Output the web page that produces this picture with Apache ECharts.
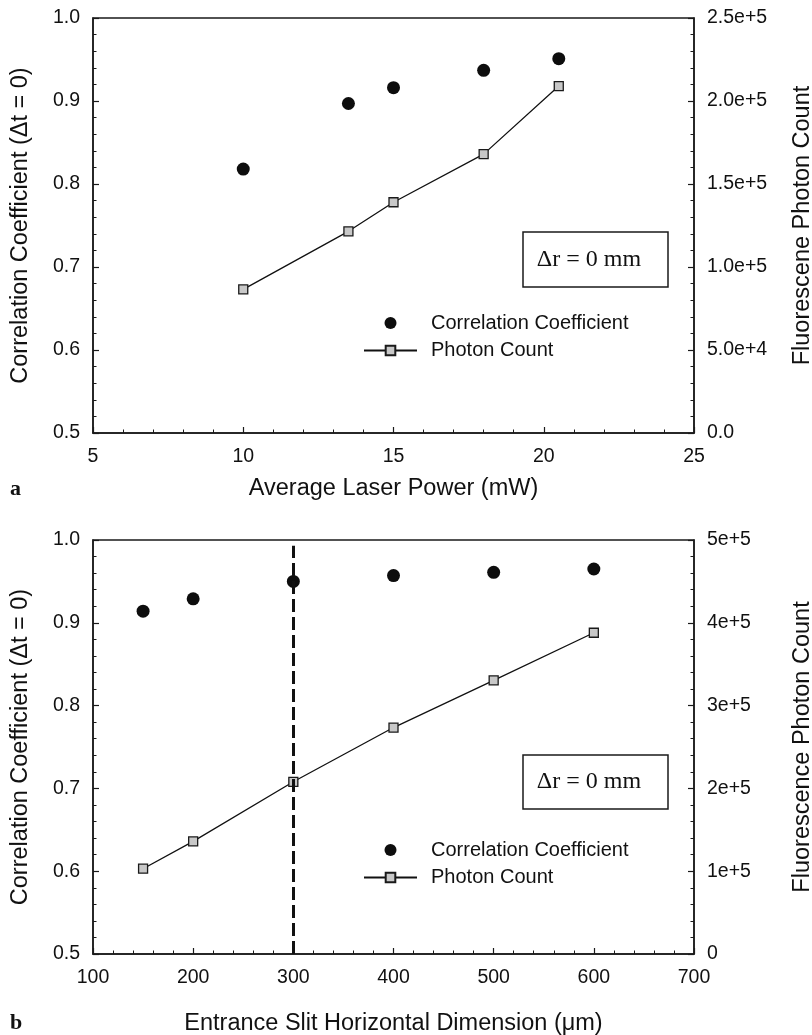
<!DOCTYPE html>
<html><head><meta charset="utf-8">
<script src="https://cdn.jsdelivr.net/npm/echarts@6/dist/echarts.min.js"></script>
<style>html,body{margin:0;padding:0;background:#fff}#c{width:812px;height:1035px}</style>
</head><body><div id="c"></div>
<script>
// ---- data ----
const powerA   = [10, 13.5, 15, 18, 20.5];
const corrA    = [0.818, 0.897, 0.916, 0.937, 0.951];
const photonA  = [86500, 121500, 139000, 168000, 209000];

const slitB    = [150, 200, 300, 400, 500, 600];
const corrB    = [0.914, 0.929, 0.950, 0.957, 0.961, 0.965];
const photonB  = [103000, 136000, 208000, 273500, 330500, 388000];

const leftTicks   = ['0.5', '0.6', '0.7', '0.8', '0.9', '1.0'];
const rightTicksA = ['0.0', '5.0e+4', '1.0e+5', '1.5e+5', '2.0e+5', '2.5e+5'];
const rightTicksB = ['0', '1e+5', '2e+5', '3e+5', '4e+5', '5e+5'];
const xTicksA     = ['5', '10', '15', '20', '25'];
const xTicksB     = ['100', '200', '300', '400', '500', '600', '700'];
const slitMarker  = 300;
const slitMarkerTop = 0.993;

const SANS = '"Liberation Sans", Arial, sans-serif';
const SERIF = '"Liberation Serif", "Times New Roman", serif';
const AX = '#1a1a1a';
const TICK_FS = 19.5, TITLE_FS = 23.5, LEG_FS = 20;

function zip(a, b) { return a.map((v, i) => [v, b[i]]); }

function xAxisCfg(gridIndex, min, max, interval, labels, name, gap) {
  return {
    type: 'value', gridIndex, min, max, interval,
    name, nameLocation: 'middle', nameGap: gap,
    nameTextStyle: { fontFamily: SANS, fontSize: TITLE_FS, color: '#111' },
    axisLine: { show: true, onZero: false, lineStyle: { color: AX, width: 1.5 } },
    axisTick: { show: true, inside: true, length: 6, lineStyle: { color: AX, width: 1.2 } },
    minorTick: { show: true, splitNumber: 5, length: 3.5, lineStyle: { color: AX, width: 1 } },
    splitLine: { show: false },
    axisLabel: { margin: 14, fontFamily: SANS, fontSize: TICK_FS, color: '#111',
      showMinLabel: true, showMaxLabel: true,
      formatter: v => labels[Math.round((v - min) / interval)] }
  };
}
function yAxisCfg(gridIndex, pos, min, max, interval, labels, name, gap) {
  return {
    type: 'value', gridIndex, position: pos, min, max, interval,
    name, nameLocation: 'middle', nameGap: gap, nameRotate: 90,
    nameTextStyle: { fontFamily: SANS, fontSize: TITLE_FS, color: '#111' },
    axisLine: { show: true, onZero: false, lineStyle: { color: AX, width: 1.5 } },
    axisTick: { show: true, inside: true, length: 6, lineStyle: { color: AX, width: 1.2 } },
    minorTick: { show: true, splitNumber: 5, length: 3.5, lineStyle: { color: AX, width: 1 } },
    splitLine: { show: false },
    axisLabel: { margin: 13, fontFamily: SANS, fontSize: TICK_FS, color: '#111',
      showMinLabel: true, showMaxLabel: true,
      formatter: v => labels[Math.round((v - min) / interval)] }
  };
}
function scatterSeries(xi, yi, data) {
  return { name: 'Correlation Coefficient', type: 'scatter', xAxisIndex: xi, yAxisIndex: yi,
    data, symbol: 'circle', symbolSize: 13, itemStyle: { color: '#0d0d0d', opacity: 1 }, z: 3 };
}
function lineSeries(xi, yi, data) {
  return { name: 'Photon Count', type: 'line', xAxisIndex: xi, yAxisIndex: yi, data,
    symbol: 'rect', symbolSize: 9, showSymbol: true,
    lineStyle: { color: '#111', width: 1.3 },
    itemStyle: { color: '#c8c8c8', borderColor: '#1a1a1a', borderWidth: 1.3 }, z: 4 };
}
function legendCfg(top) {
  return { left: 363, top, orient: 'vertical', padding: 0, itemWidth: 53, itemHeight: 12,
    itemGap: 7.5, selectedMode: false,
    data: ['Correlation Coefficient', 'Photon Count'],
    textStyle: { fontFamily: SANS, fontSize: LEG_FS, color: '#111', padding: [0, 0, 0, 9] } };
}

const scB = scatterSeries(1, 2, zip(slitB, corrB));
scB.markLine = {
  silent: true, symbol: 'none', label: { show: false },
  lineStyle: { color: '#111', width: 3, type: [13, 5] },
  data: [[{ coord: [slitMarker, 0.5] }, { coord: [slitMarker, slitMarkerTop] }]]
};

const option = {
  animation: false,
  backgroundColor: '#fff',
  grid: [
    { left: 93, top: 18, width: 601, height: 415, show: true, borderColor: AX, borderWidth: 1.5,
      containLabel: false, outerBoundsMode: 'none' },
    { left: 93, top: 540, width: 601, height: 414, show: true, borderColor: AX, borderWidth: 1.5,
      containLabel: false, outerBoundsMode: 'none' }
  ],
  xAxis: [
    xAxisCfg(0, 5, 25, 5, xTicksA, 'Average Laser Power (mW)', 44),
    xAxisCfg(1, 100, 700, 100, xTicksB, 'Entrance Slit Horizontal Dimension (μm)', 58)
  ],
  yAxis: [
    yAxisCfg(0, 'left', 0.5, 1.0, 0.1, leftTicks, 'Correlation Coefficient (Δt = 0)', 60),
    yAxisCfg(0, 'right', 0, 250000, 50000, rightTicksA, 'Fluorescene Photon Count', 97),
    yAxisCfg(1, 'left', 0.5, 1.0, 0.1, leftTicks, 'Correlation Coefficient (Δt = 0)', 60),
    yAxisCfg(1, 'right', 0, 500000, 100000, rightTicksB, 'Fluorescence Photon Count', 97)
  ],
  legend: [legendCfg(313), legendCfg(840)],
  series: [
    scatterSeries(0, 0, zip(powerA, corrA)),
    lineSeries(0, 1, zip(powerA, photonA)),
    scB,
    lineSeries(1, 3, zip(slitB, photonB))
  ],
  graphic: [
    { type: 'rect', shape: { x: 523, y: 232, width: 145, height: 55 },
      style: { fill: '#fff', stroke: AX, lineWidth: 1.5 }, z: 10 },
    { type: 'text', x: 589, y: 260, z: 11,
      style: { text: 'Δr = 0 mm', fontFamily: SERIF, fontSize: 24, fill: '#111', align: 'center', verticalAlign: 'middle' } },
    { type: 'rect', shape: { x: 523, y: 755, width: 145, height: 54 },
      style: { fill: '#fff', stroke: AX, lineWidth: 1.5 }, z: 10 },
    { type: 'text', x: 589, y: 782, z: 11,
      style: { text: 'Δr = 0 mm', fontFamily: SERIF, fontSize: 24, fill: '#111', align: 'center', verticalAlign: 'middle' } },
    { type: 'text', x: 10, y: 489, z: 11,
      style: { text: 'a', fontFamily: SERIF, fontSize: 22, fontWeight: 'bold', fill: '#111', verticalAlign: 'middle' } },
    { type: 'text', x: 10, y: 1023, z: 11,
      style: { text: 'b', fontFamily: SERIF, fontSize: 22, fontWeight: 'bold', fill: '#111', verticalAlign: 'middle' } }
  ]
};
echarts.init(document.getElementById('c'), null, { renderer: 'canvas' }).setOption(option);
</script></body></html>
